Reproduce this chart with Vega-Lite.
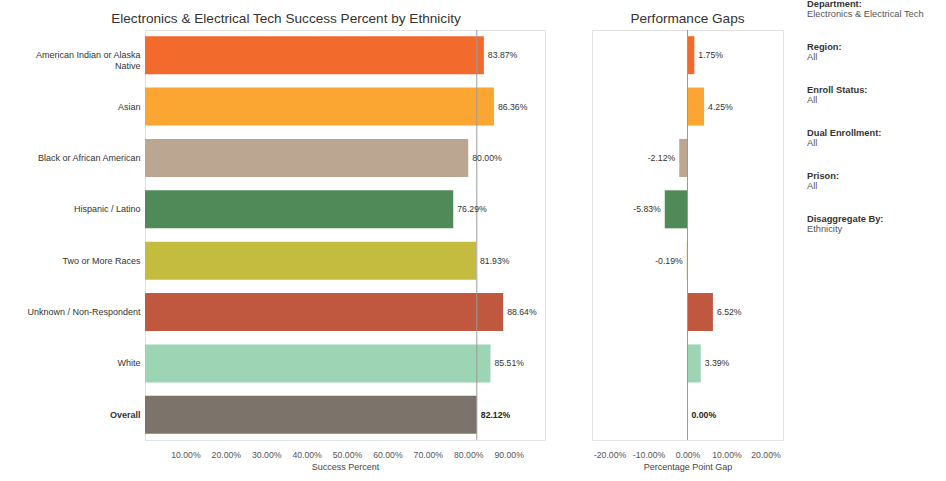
{
  "$schema": "https://vega.github.io/schema/vega-lite/v6.json",
  "padding": {"left": 26, "top": 0, "right": 5, "bottom": 5},
  "background": "white",
  "config": {
    "font": "Liberation Sans",
    "locale": {"number": {"decimal": ".", "thousands": ",", "grouping": [3], "currency": ["$", ""], "minus": "-"}},
    "view": {"stroke": "#e3e3e3"},
    "title": {"fontSize": 13.6, "fontWeight": "normal", "color": "#333333", "offset": 4},
    "axis": {"labelFont": "Liberation Sans", "titleFont": "Liberation Sans", "labelColor": "#555555", "titleColor": "#444444", "labelFontSize": 8.7, "titleFontSize": 9, "titleFontWeight": "normal", "ticks": false, "grid": false, "domainColor": "#e3e3e3", "labelPadding": 10, "titlePadding": 4}
  },
  "datasets": {
    "rows": [
      {"ethnicity": "American Indian or Alaska Native", "success": 0.8387, "gap": 0.0175},
      {"ethnicity": "Asian", "success": 0.8636, "gap": 0.0425},
      {"ethnicity": "Black or African American", "success": 0.8000, "gap": -0.0212},
      {"ethnicity": "Hispanic / Latino", "success": 0.7629, "gap": -0.0583},
      {"ethnicity": "Two or More Races", "success": 0.8193, "gap": -0.0019},
      {"ethnicity": "Unknown / Non-Respondent", "success": 0.8864, "gap": 0.0652},
      {"ethnicity": "White", "success": 0.8551, "gap": 0.0339},
      {"ethnicity": "Overall", "success": 0.8212, "gap": 0.0}
    ],
    "filters": [
      {"item": "Department:", "value": "Electronics & Electrical Tech"},
      {"item": "Region:", "value": "All"},
      {"item": "Enroll Status:", "value": "All"},
      {"item": "Dual Enrollment:", "value": "All"},
      {"item": "Prison:", "value": "All"},
      {"item": "Disaggregate By:", "value": "Ethnicity"}
    ]
  },
  "spacing": 23,
  "hconcat": [
    {
      "spacing": 45,
      "hconcat": [
        {
          "title": {"text": "Electronics & Electrical Tech Success Percent by Ethnicity", "frame": "bounds", "anchor": "middle"},
          "width": 400,
          "height": 410,
          "data": {"name": "rows"},
          "encoding": {
            "y": {
              "field": "ethnicity", "type": "nominal", "title": null,
              "sort": ["American Indian or Alaska Native", "Asian", "Black or African American", "Hispanic / Latino", "Two or More Races", "Unknown / Non-Respondent", "White", "Overall"],
              "scale": {"paddingInner": 0.26, "paddingOuter": 0.12},
              "axis": {
                "domain": false, "labelPadding": 5, "labelFontSize": 9, "labelColor": "#333333", "labelLineHeight": 11,
                "labelExpr": "datum.value == 'American Indian or Alaska Native' ? ['American Indian or Alaska', 'Native'] : datum.value",
                "labelFontWeight": {"condition": {"test": "datum.value == 'Overall'", "value": "bold"}, "value": "normal"}
              }
            }
          },
          "layer": [
            {
              "mark": {"type": "bar"},
              "encoding": {
                "x": {"field": "success", "type": "quantitative", "title": "Success Percent", "scale": {"domain": [0, 0.99], "nice": false}, "axis": {"values": [0.1, 0.2, 0.3, 0.4, 0.5, 0.6, 0.7, 0.8, 0.9], "format": ".2%"}},
                "color": {"field": "ethnicity", "type": "nominal", "legend": null,
                  "scale": {"domain": ["American Indian or Alaska Native", "Asian", "Black or African American", "Hispanic / Latino", "Two or More Races", "Unknown / Non-Respondent", "White", "Overall"],
                    "range": ["#f26a2c", "#fba533", "#baa691", "#4f8a58", "#c4bc3f", "#c0583f", "#9cd4b4", "#7c736b"]}}
              }
            },
            {
              "transform": [{"filter": "datum.ethnicity == 'Overall'"}],
              "mark": {"type": "rule", "color": "#9a9a9a", "strokeWidth": 1},
              "encoding": {"x": {"field": "success", "type": "quantitative"}, "y": null}
            },
            {
              "transform": [{"filter": "datum.ethnicity != 'Overall'"}],
              "mark": {"type": "text", "align": "left", "dx": 4, "fontSize": 8.7, "color": "#333333"},
              "encoding": {"x": {"field": "success", "type": "quantitative"}, "text": {"field": "success", "format": ".2%"}}
            },
            {
              "transform": [{"filter": "datum.ethnicity == 'Overall'"}],
              "mark": {"type": "text", "align": "left", "dx": 4, "fontSize": 8.7, "fontWeight": "bold", "color": "#222222"},
              "encoding": {"x": {"field": "success", "type": "quantitative"}, "text": {"field": "success", "format": ".2%"}}
            }
          ]
        },
        {
          "title": {"text": "Performance Gaps", "anchor": "middle"},
          "width": 191,
          "height": 410,
          "data": {"name": "rows"},
          "encoding": {
            "y": {
              "field": "ethnicity", "type": "nominal", "title": null,
              "sort": ["American Indian or Alaska Native", "Asian", "Black or African American", "Hispanic / Latino", "Two or More Races", "Unknown / Non-Respondent", "White", "Overall"],
              "scale": {"paddingInner": 0.26, "paddingOuter": 0.12},
              "axis": null
            }
          },
          "layer": [
            {
              "mark": {"type": "bar"},
              "encoding": {
                "x": {"field": "gap", "type": "quantitative", "title": "Percentage Point Gap", "scale": {"domain": [-0.245, 0.245], "nice": false}, "axis": {"values": [-0.2, -0.1, 0, 0.1, 0.2], "format": ".2%"}},
                "color": {"field": "ethnicity", "type": "nominal", "legend": null,
                  "scale": {"domain": ["American Indian or Alaska Native", "Asian", "Black or African American", "Hispanic / Latino", "Two or More Races", "Unknown / Non-Respondent", "White", "Overall"],
                    "range": ["#f26a2c", "#fba533", "#baa691", "#4f8a58", "#c4bc3f", "#c0583f", "#9cd4b4", "#7c736b"]}}
              }
            },
            {
              "transform": [{"filter": "datum.ethnicity == 'Overall'"}],
              "mark": {"type": "rule", "color": "#999999", "strokeWidth": 1},
              "encoding": {"x": {"field": "gap", "type": "quantitative"}, "y": null}
            },
            {
              "transform": [{"filter": "datum.gap > 0"}],
              "mark": {"type": "text", "align": "left", "dx": 4, "fontSize": 8.7, "color": "#333333"},
              "encoding": {"x": {"field": "gap", "type": "quantitative"}, "text": {"field": "gap", "format": ".2%"}}
            },
            {
              "transform": [{"filter": "datum.gap < 0"}],
              "mark": {"type": "text", "align": "right", "dx": -4, "fontSize": 8.7, "color": "#333333"},
              "encoding": {"x": {"field": "gap", "type": "quantitative"}, "text": {"field": "gap", "format": ".2%"}}
            },
            {
              "transform": [{"filter": "datum.ethnicity == 'Overall'"}],
              "mark": {"type": "text", "align": "left", "dx": 4, "fontSize": 8.7, "fontWeight": "bold", "color": "#222222"},
              "encoding": {"x": {"field": "gap", "type": "quantitative"}, "text": {"field": "gap", "format": ".2%"}}
            }
          ]
        }
      ]
    },
    {
      "width": 130,
      "height": 215,
      "view": {"stroke": null},
      "data": {"name": "filters"},
      "encoding": {
        "y": {"field": "item", "type": "ordinal", "sort": null, "scale": {"type": "point", "padding": 0}, "axis": null},
        "x": {"datum": 0, "type": "quantitative", "scale": {"domain": [0, 1]}, "axis": null}
      },
      "layer": [
        {
          "mark": {"type": "text", "align": "left", "baseline": "middle", "dy": -26, "fontSize": 9.3, "fontWeight": "bold", "color": "#333333"},
          "encoding": {"text": {"field": "item"}}
        },
        {
          "mark": {"type": "text", "align": "left", "baseline": "middle", "dy": -16, "fontSize": 9.3, "color": "#555555"},
          "encoding": {"text": {"field": "value"}}
        }
      ]
    }
  ]
}
